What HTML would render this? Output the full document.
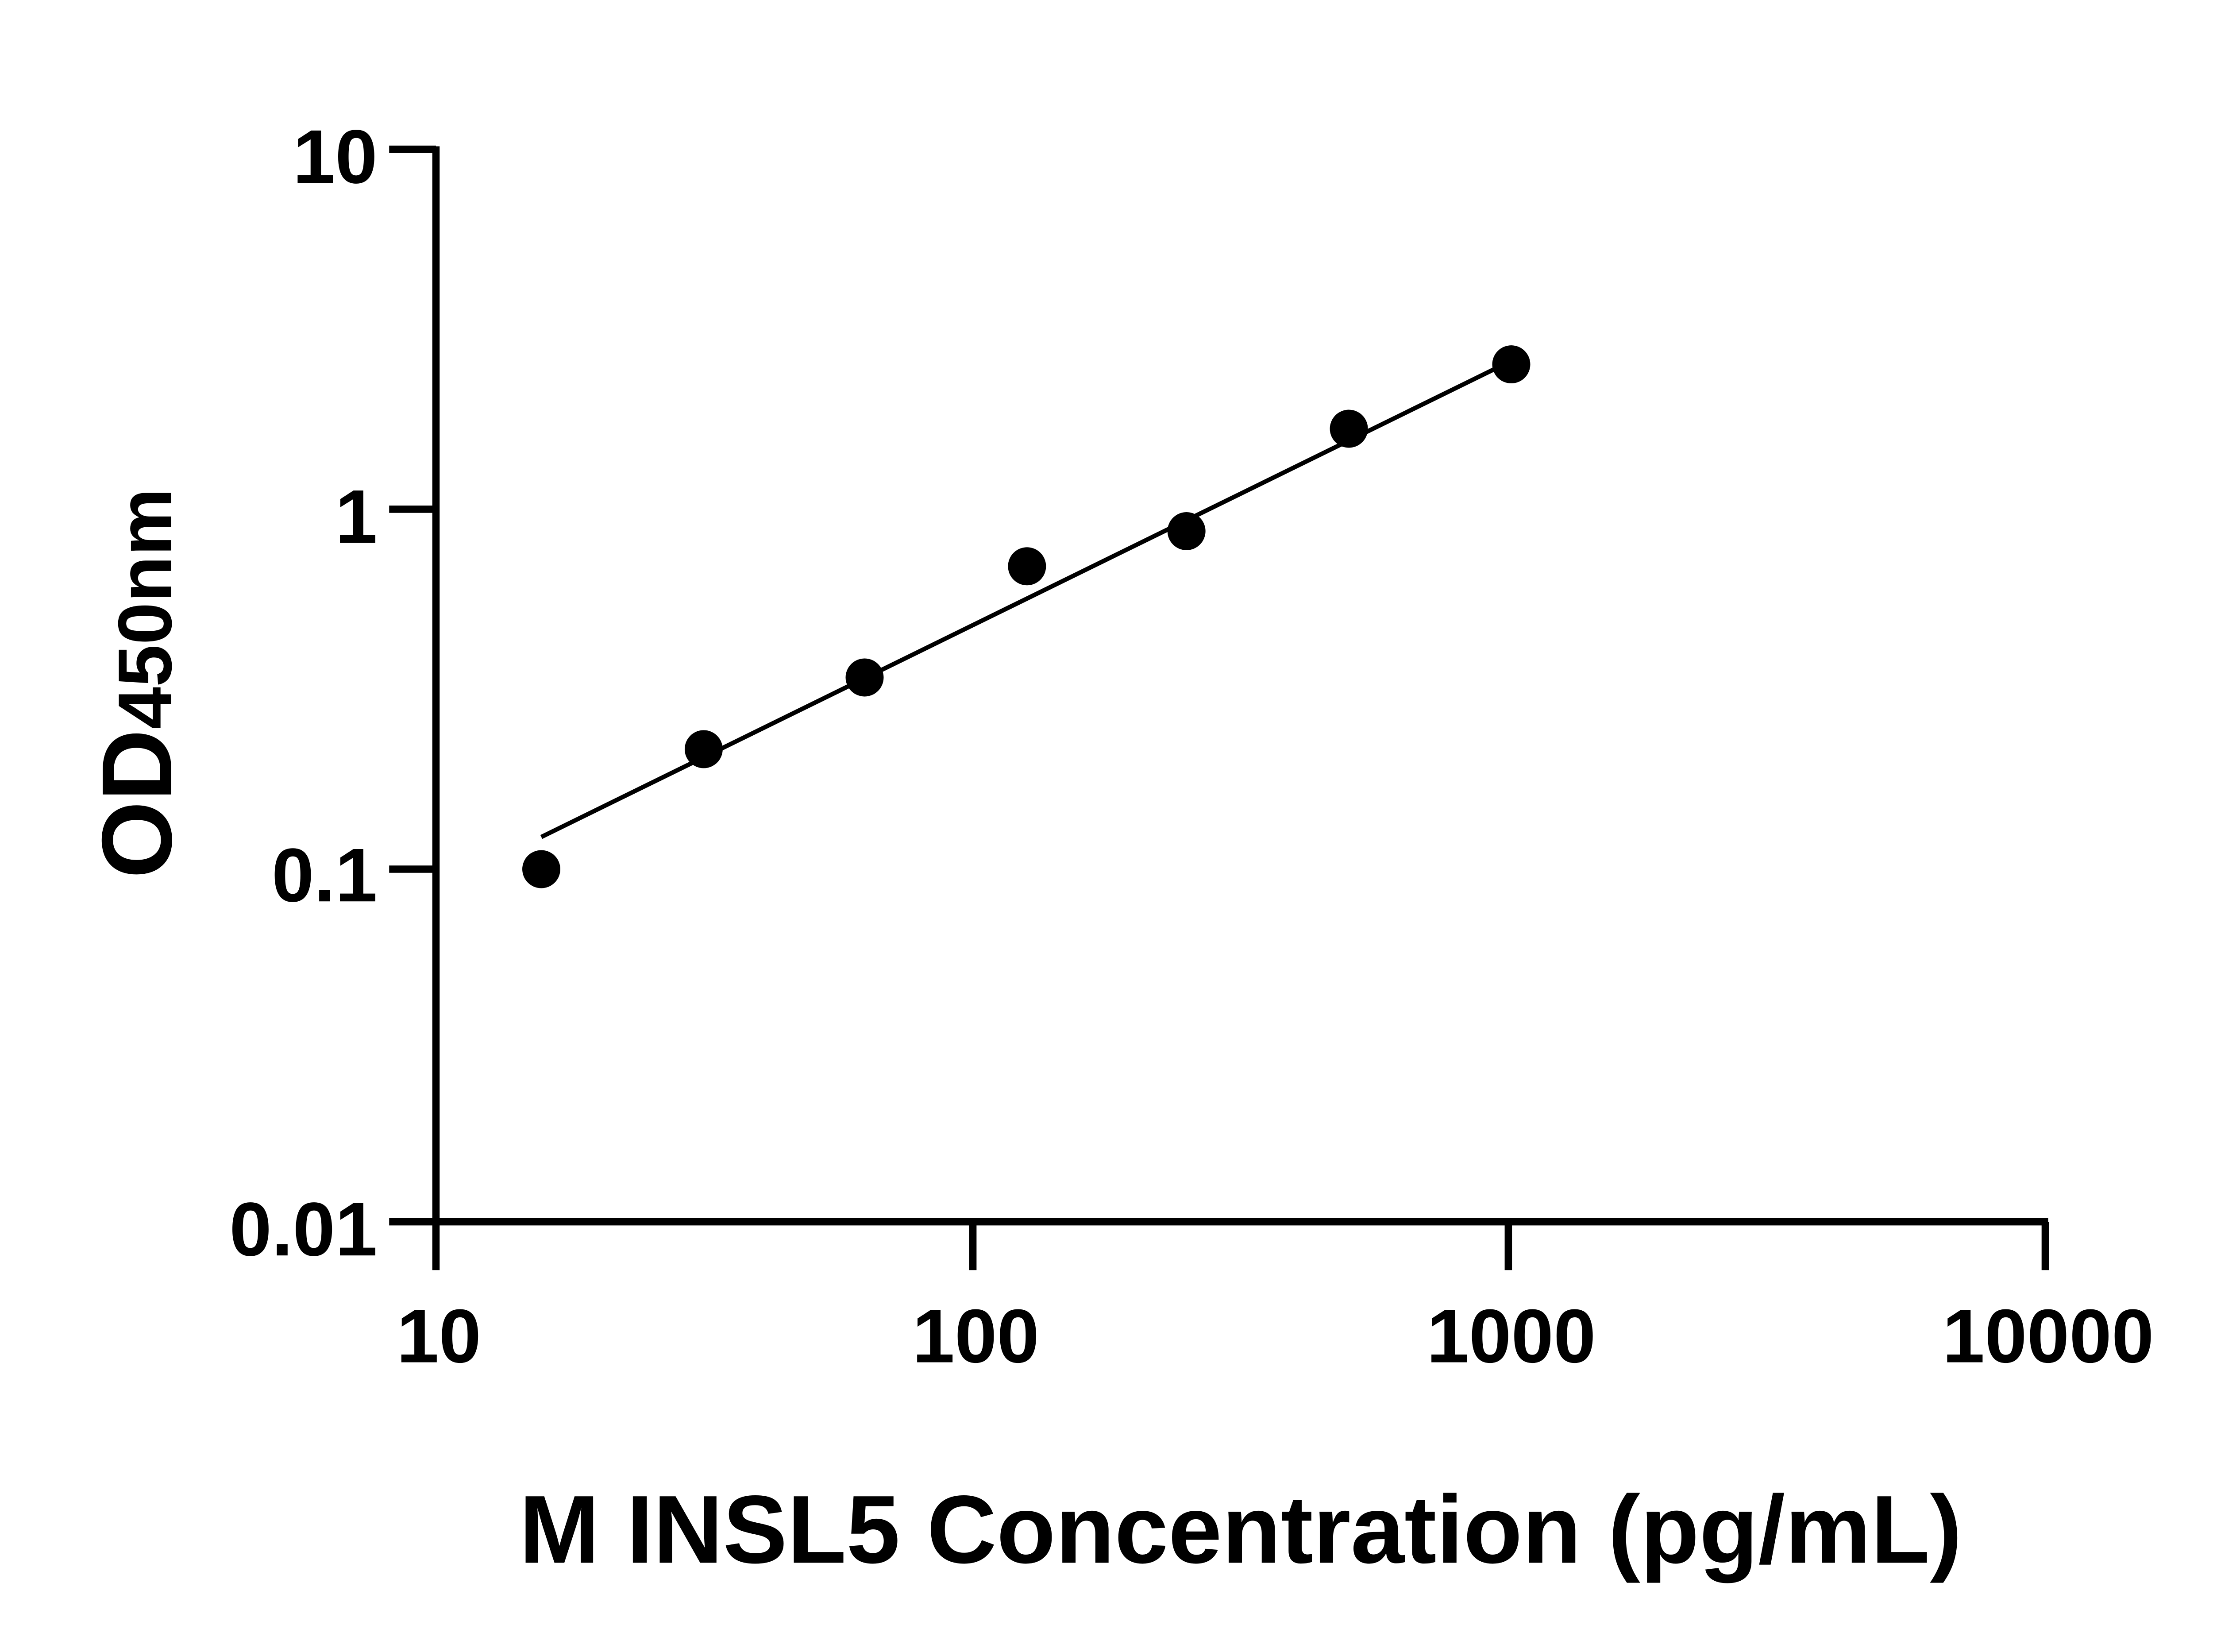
<!DOCTYPE html>
<html><head><meta charset="utf-8"><style>
html,body{margin:0;padding:0;background:#fff;}
svg{display:block;}
</style></head><body>
<svg width="5130" height="3732" viewBox="0 0 1552 1129" preserveAspectRatio="none" xmlns="http://www.w3.org/2000/svg">
<g stroke="#000" stroke-width="5" fill="none" stroke-linecap="butt">
<line x1="298" y1="100" x2="298" y2="837"/>
<line x1="296" y1="835" x2="1400" y2="835"/>
<line x1="266" y1="102" x2="298" y2="102"/>
<line x1="266" y1="348" x2="298" y2="348"/>
<line x1="266" y1="594" x2="298" y2="594"/>
<line x1="266" y1="835" x2="298" y2="835"/>
<line x1="298" y1="835" x2="298" y2="868"/>
<line x1="665" y1="835" x2="665" y2="868"/>
<line x1="1031" y1="835" x2="1031" y2="868"/>
<line x1="1398" y1="835" x2="1398" y2="868"/>
</g>
<line x1="370" y1="572" x2="1022" y2="252" stroke="#000" stroke-width="3"/>
<g fill="#000">
<circle cx="370" cy="594" r="13"/>
<circle cx="481" cy="512" r="13"/>
<circle cx="591" cy="463" r="13"/>
<circle cx="702" cy="387" r="13"/>
<circle cx="811" cy="363" r="13"/>
<circle cx="922" cy="293" r="13"/>
<circle cx="1033" cy="249" r="13"/>
</g>
<g font-family="'Liberation Sans Narrow','Liberation Sans',sans-serif" font-weight="bold" font-size="52" fill="#000">
<g text-anchor="end">
<text x="258" y="125">10</text>
<text x="258" y="371">1</text>
<text x="258" y="616">0.1</text>
<text x="258" y="858">0.01</text>
</g>
<g text-anchor="middle">
<text x="300" y="931">10</text>
<text x="667" y="931">100</text>
<text x="1033" y="931">1000</text>
<text x="1400" y="931">10000</text>
</g>
</g>
<text transform="translate(117,467) rotate(-90)" text-anchor="middle" font-family="'Liberation Sans',sans-serif" font-weight="bold" font-size="68" fill="#000">OD<tspan font-size="52">450nm</tspan></text>
<text x="848" y="1068" text-anchor="middle" font-family="'Liberation Sans Narrow','Liberation Sans',sans-serif" font-weight="bold" font-size="66" fill="#000">M INSL5 Concentration (pg/mL)</text>
</svg>
</body></html>
